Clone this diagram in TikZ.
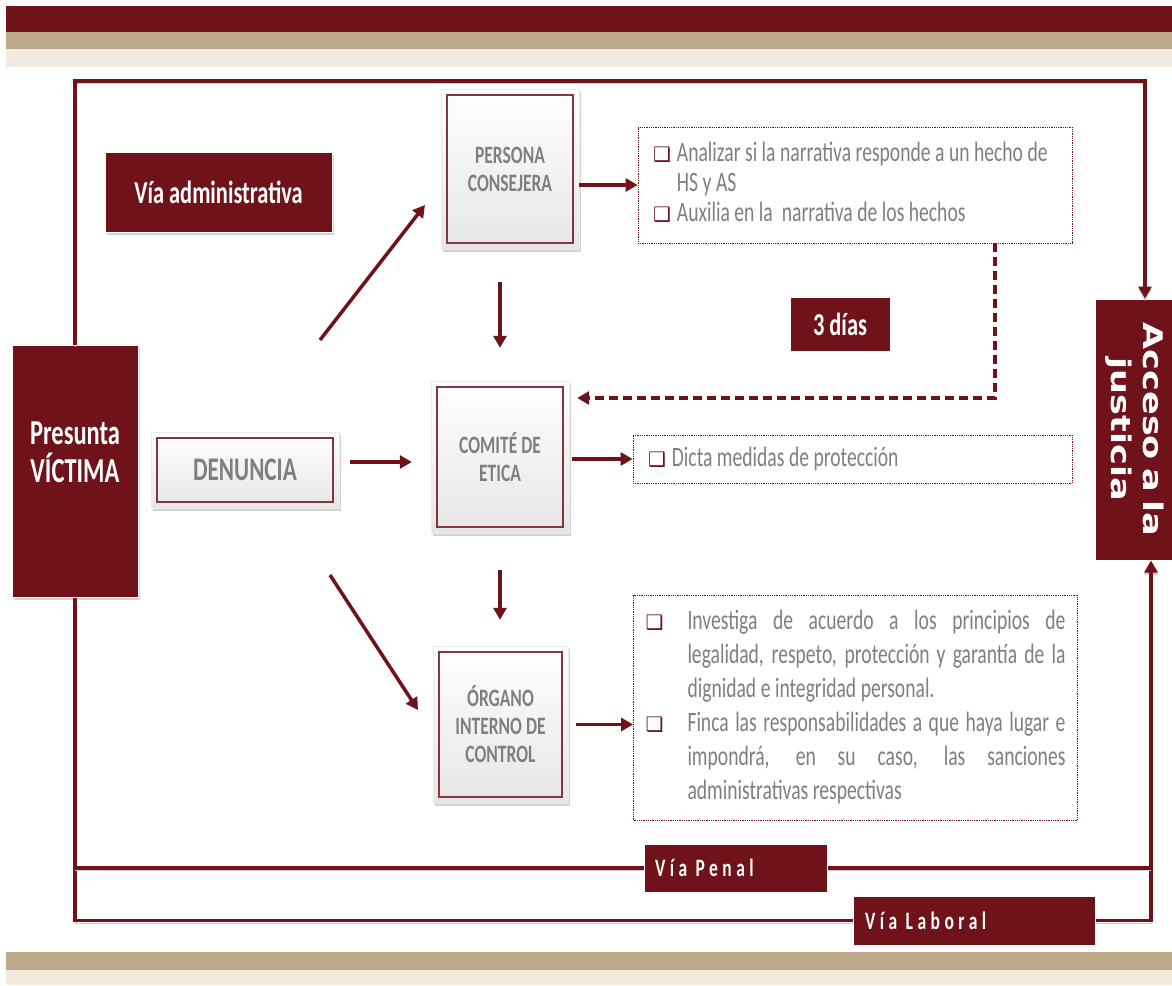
\documentclass[tikz,border=0pt]{standalone}
\usepackage{fontspec}
\usepackage{graphicx}
\usepackage{xcolor}
\setmainfont{Carlito}[FakeStretch=0.7]
\newfontfamily\spacedfont{Carlito}[FakeStretch=0.7,LetterSpace=18,WordSpace=0.6]
\newfontfamily\widefont{DejaVu Sans}[FakeStretch=1.3,WordSpace=0.7]
\newfontfamily\symfont{DejaVu Sans}
\usetikzlibrary{arrows.meta,shadows,positioning}
\definecolor{vino}{HTML}{70121A}
\definecolor{arena}{HTML}{BDA98A}
\definecolor{crema}{HTML}{F2EADC}
\definecolor{texto}{HTML}{7F7F7F}
\newcommand{\casilla}{\leavevmode{\symfont\fontsize{20}{20}\selectfont\color{vino}❑}}
\newcommand{\espacio}{\spaceskip=4.5pt plus 3pt minus 1pt\relax\xspaceskip=5pt plus 3pt\relax}
\hyphenpenalty=10000

\begin{document}
\begin{tikzpicture}[x=1pt, y=-1pt,
	caja/.style={draw=black!8, line width=0.4pt, top color=white, bottom color=black!10,
		drop shadow={shadow xshift=2pt, shadow yshift=-3pt, opacity=0.35},
		path picture={\draw[vino!85, line width=1.3pt]
			([shift={(6pt,6pt)}]path picture bounding box.south west) rectangle
			([shift={(-6pt,-6pt)}]path picture bounding box.north east);},
		text=texto, align=center, font=\bfseries\fontsize{25}{28}\selectfont},
	oscura/.style={fill=vino, draw=white, line width=1pt, text=white, align=center},
	sombra/.style={drop shadow={shadow xshift=2pt, shadow yshift=-3pt, opacity=0.35}},
	punteada/.style={draw=vino, densely dotted, line width=0.8pt, text=texto, align=left,
		font=\fontsize{28}{30}\selectfont, execute at begin node=\espacio},
	flecha/.style={draw=vino, line width=3.5pt, -{Triangle[length=12pt,width=13pt]}},
	marco/.style={draw=vino, line width=3.5pt,
		preaction={draw=black!20, transform canvas={yshift=-2.5pt}}}]
	\useasboundingbox[fill=white] (0,0) rectangle (1172,985);
	% bandas
	\fill[vino] (6,6) rectangle (1172,32);
	\fill[arena] (6,32) rectangle (1172,49);
	\fill[crema] (6,49) rectangle (1172,67);
	\fill[arena] (6,952) rectangle (1172,970);
	\fill[crema] (6,970) rectangle (1172,985);

	\node[oscura, sombra, minimum width=126, minimum height=252, text depth=37pt, font=\bfseries\fontsize{35}{38}\selectfont] (victima) at (75,471) {Presunta\\VÍCTIMA};
	\node[caja, minimum width=188, minimum height=76, font=\bfseries\fontsize{33}{36}\selectfont] (denuncia) at (245,470) {DENUNCIA};
	\node[oscura, sombra, minimum width=227, minimum height=80, font=\bfseries\fontsize{32}{34}\selectfont] (viaadmin) at (218.5,192) {Vía administrativa};

	\node[caja, minimum width=138, minimum height=160] (persona) at (510,169) {PERSONA\\CONSEJERA};
	\node[caja, minimum width=138, minimum height=152] (comite) at (500,457) {COMITÉ DE\\ETICA};
	\node[caja, minimum width=135, minimum height=157] (organo) at (500.5,724.5) {ÓRGANO\\INTERNO DE\\CONTROL};

	\node[punteada, minimum height=116, text width=404, inner xsep=15pt] (analiza) at (855,185)
		{\begin{tabular}{@{}l@{\hspace{6pt}}l@{}}
			\casilla & Analizar si la narrativa responde a un hecho de\\
			& HS y AS\\
			\casilla & Auxilia en la\ \ narrativa de los hechos
		\end{tabular}};
	\node[punteada, minimum height=48, text width=409, inner xsep=15pt] (dicta) at (852.5,459)
		{\casilla\hspace{6pt}Dicta medidas de protección};
	\node[punteada, minimum height=225, text width=420, inner xsep=12pt, font=\fontsize{28}{34}\selectfont] (investiga) at (855.5,707.5)
		{\begin{tabular}{@{}p{42pt}@{}p{378pt}@{}}
			\casilla & \espacio Investiga de acuerdo a los principios de\linebreak legalidad, respeto, protección y garantía de la\linebreak dignidad e integridad personal.\\
			\casilla & \espacio Finca las responsabilidades a que haya lugar e\linebreak impondrá, en su caso, las sanciones\linebreak administrativas respectivas
		\end{tabular}};

	\node[oscura, minimum width=100, minimum height=54, font=\bfseries\fontsize{32}{34}\selectfont] (tresdias) at (840,324) {3 días};
	\node[oscura, minimum width=77, minimum height=261, font=\widefont\bfseries\fontsize{27}{32}\selectfont] (acceso) at (1133.5,429.5)
		{\rotatebox{-90}{\begin{tabular}{@{}c@{}}Acceso a la\\justicia\end{tabular}}};
	\node[oscura, minimum width=183, minimum height=48, text width=161, inner xsep=11pt, align=left, font=\spacedfont\bfseries\fontsize{25}{25}\selectfont] (penal) at (735.5,868) {Vía Penal};
	\node[oscura, minimum width=242, minimum height=49, text width=218, inner xsep=12pt, align=left, font=\spacedfont\bfseries\fontsize{25}{25}\selectfont] (laboral) at (974,920.5) {Vía Laboral};

	% marco exterior
	\coordinate (arribader) at (1145,81);
	\coordinate (abajoder) at (1151,923);
	\draw[marco, -{Triangle[length=12pt,width=13pt]}] (victima.north) |- (arribader) -- (arribader |- acceso.north);
	\draw[marco] (victima.south) |- (laboral.west);
	\draw[marco, -{Triangle[length=12pt,width=13pt]}] (laboral.east) -| (abajoder |- acceso.south);
	\draw[marco] (victima.south |- penal.west) -- (penal.west);
	\draw[marco] (penal.east) -- (abajoder |- penal.east);

	% flechas
	\coordinate (arribaini) at (320,340);
	\coordinate (arribafin) at (425,205);
	\coordinate (abajoini) at (330,575);
	\coordinate (abajofin) at (418,710);
	\draw[flecha] (arribaini) -- (arribafin);
	\draw[flecha] (abajoini) -- (abajofin);
	\draw[flecha] (persona.east |- analiza.west) -- (analiza.west);
	\draw[flecha, shorten <=33pt, shorten >=33pt] (comite.north |- persona.south) -- (comite.north);
	\draw[flecha, shorten <=37pt, shorten >=26pt] (comite.south) -- (comite.south |- organo.north);
	\draw[flecha, shorten <=11pt, shorten >=19pt] ([yshift=8pt]denuncia.east) -- ([yshift=8pt]denuncia.east -| comite.west);
	\draw[flecha, shorten <=3pt] (comite.east |- dicta.west) -- (dicta.west);
	\draw[flecha, shorten <=8pt] (organo.east) -- (organo.east -| investiga.west);
	\draw[flecha, dash pattern=on 9pt off 5pt, shorten >=8pt] ([xshift=140pt]analiza.south) |- ([yshift=59pt]comite.east);
\end{tikzpicture}
\end{document}
